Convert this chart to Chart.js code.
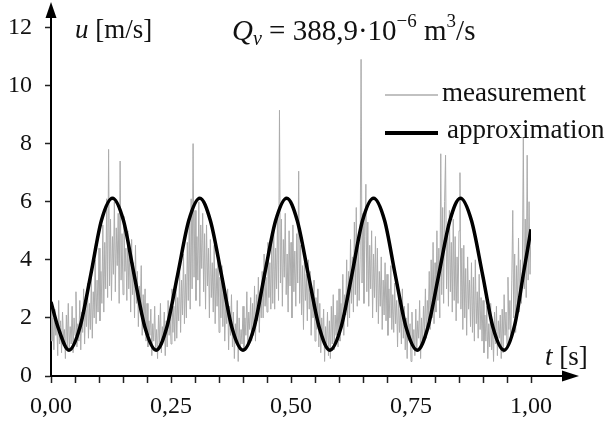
<!DOCTYPE html>
<html>
<head>
<meta charset="utf-8">
<script src="https://cdn.jsdelivr.net/npm/chart.js@4.4.1/dist/chart.umd.min.js"></script>
<style>
html, body { margin: 0; padding: 0; background: #fff; }
</style>
</head>
<body>
<canvas id="chartVelocidade" width="612" height="425"></canvas>
<script>
// measured velocity, one sample every 2 ms from t = 0 to t = 1,00 s (one row = 20 ms)
var sampleStep = 0.002;
var measuredU = [
    2.4, 1.2, 2.0, 0.9, 2.3, 1.4, 1.8, 0.7, 2.6, 1.1,
    1.9, 0.8, 2.2, 1.3, 1.6, 0.6, 2.1, 1.0, 2.5, 0.9,
    1.7, 1.1, 2.4, 0.8, 2.0, 1.4, 2.9, 1.0, 1.8, 1.2,
    2.6, 0.9, 2.2, 1.5, 3.0, 1.1, 2.4, 1.7, 3.2, 1.3,
    2.5, 1.6, 3.4, 1.3, 2.9, 2.0, 4.0, 1.8, 3.3, 2.2,
    4.4, 1.9, 3.6, 2.5, 5.2, 2.2, 4.6, 3.0, 6.1, 2.7,
    7.8, 3.1, 5.4, 2.6, 4.8, 3.5, 6.0, 2.9, 5.1, 3.8,
    5.6, 2.5, 7.4, 3.3, 4.9, 2.8, 5.5, 3.6, 4.4, 2.6,
    5.0, 3.0, 4.2, 2.2, 4.7, 2.8, 3.9, 2.0, 4.5, 2.5,
    3.6, 1.7, 3.1, 2.3, 3.8, 1.4, 2.8, 1.9, 3.0, 1.2,
    2.5, 1.0, 1.9, 1.4, 2.3, 0.7, 1.8, 1.2, 2.4, 0.9,
    1.6, 0.6, 2.1, 1.1, 2.5, 0.8, 1.7, 1.3, 2.2, 0.7,
    1.9, 1.0, 2.6, 1.4, 2.2, 1.1, 3.0, 1.5, 2.4, 1.2,
    3.1, 1.3, 2.7, 1.9, 3.6, 1.5, 3.3, 2.1, 4.2, 1.8,
    3.5, 2.0, 4.6, 2.6, 5.3, 2.3, 6.1, 3.0, 8.0, 3.4,
    5.7, 2.6, 4.8, 3.3, 6.0, 2.4, 5.2, 3.7, 5.6, 2.9,
    4.9, 2.3, 5.2, 3.1, 4.4, 2.0, 4.7, 2.7, 3.9, 2.2,
    4.5, 1.8, 3.7, 2.4, 4.1, 1.5, 3.4, 2.0, 3.8, 1.7,
    3.2, 1.2, 2.6, 1.8, 3.0, 0.9, 2.4, 1.4, 2.8, 1.0,
    2.2, 0.6, 1.8, 1.2, 2.6, 0.5, 2.0, 0.9, 1.6, 1.1,
    2.4, 0.9, 2.0, 1.4, 2.9, 1.1, 2.2, 1.6, 2.7, 1.2,
    2.5, 1.4, 3.1, 1.2, 2.8, 1.9, 3.4, 1.5, 2.9, 2.0,
    3.6, 2.0, 4.2, 2.4, 3.4, 2.2, 4.6, 2.7, 3.9, 2.3,
    4.8, 2.5, 5.2, 2.3, 4.4, 3.0, 5.6, 2.6, 9.15, 3.2,
    5.4, 2.4, 4.7, 3.4, 5.6, 2.8, 4.2, 2.2, 5.0, 3.1,
    4.6, 2.0, 5.2, 2.9, 4.3, 2.4, 4.9, 3.2, 7.05, 2.5,
    4.5, 2.1, 3.8, 1.6, 4.2, 2.6, 3.5, 1.9, 4.0, 2.3,
    3.6, 1.4, 2.9, 2.0, 3.3, 1.2, 2.7, 1.6, 3.0, 1.0,
    2.5, 0.8, 2.0, 1.3, 2.3, 0.5, 1.7, 1.0, 2.2, 0.7,
    1.9, 0.6, 2.4, 1.1, 2.8, 0.9, 2.1, 1.4, 2.6, 1.0,
    3.0, 1.2, 2.5, 1.8, 3.5, 1.4, 2.8, 2.1, 4.0, 1.7,
    3.6, 2.0, 4.7, 2.5, 4.1, 2.2, 5.3, 2.8, 5.8, 2.4,
    4.6, 2.6, 4.0, 10.9, 3.2, 5.6, 2.5, 4.8, 6.6, 2.9,
    5.3, 2.4, 4.5, 3.0, 5.0, 2.0, 4.2, 2.7, 4.8, 2.2,
    4.4, 1.8, 3.6, 2.4, 4.1, 1.6, 3.3, 2.1, 3.9, 1.9,
    3.5, 1.4, 3.0, 2.0, 3.8, 1.6, 2.8, 1.5, 3.2, 1.8,
    2.6, 1.0, 2.9, 1.5, 2.3, 1.1, 3.0, 1.3, 2.4, 0.9,
    2.0, 0.6, 2.5, 1.2, 1.8, 0.5, 2.2, 1.0, 1.6, 0.7,
    2.3, 0.9, 1.9, 1.3, 2.6, 0.6, 2.0, 1.1, 2.4, 1.4,
    3.0, 1.3, 2.6, 1.9, 3.6, 1.6, 4.0, 2.0, 4.6, 1.8,
    3.9, 2.2, 5.0, 2.6, 4.4, 2.0, 7.65, 2.8, 5.8, 2.5,
    6.0, 7.6, 3.0, 5.2, 2.4, 5.7, 2.9, 4.6, 2.2, 5.4,
    2.6, 4.8, 1.9, 4.1, 2.5, 5.0, 7.0, 2.3, 4.4, 1.6,
    4.5, 2.0, 3.7, 1.4, 4.1, 2.3, 3.3, 1.7, 3.9, 1.5,
    3.4, 1.2, 4.0, 1.8, 2.9, 1.3, 3.5, 1.6, 2.7, 1.2,
    2.6, 0.8, 2.1, 1.2, 2.4, 0.6, 1.8, 1.0, 2.5, 0.9,
    1.7, 0.5, 2.2, 1.1, 2.4, 0.7, 1.9, 1.3, 2.1, 0.6,
    2.3, 0.8, 2.8, 1.4, 2.2, 1.0, 3.4, 1.6, 2.6, 1.2,
    3.3, 5.7, 2.0, 4.2, 1.5, 3.8, 2.4, 4.75, 2.2, 4.0,
    2.5, 3.6, 8.2, 3.0, 5.4, 2.7, 7.6, 3.3, 6.0, 3.5,
    5.0
];

// approximation curve
var approxT = [0, 0.015, 0.0375, 0.060, 0.083, 0.105, 0.128, 0.151, 0.173, 0.196,
    0.219, 0.241, 0.264, 0.287, 0.310, 0.332, 0.355, 0.377,
    0.400, 0.423, 0.445, 0.468, 0.491, 0.513, 0.536, 0.559,
    0.581, 0.604, 0.627, 0.649, 0.672, 0.695, 0.717, 0.740,
    0.763, 0.785, 0.808, 0.831, 0.853, 0.876, 0.899, 0.921,
    0.944, 0.966, 0.985, 1.0];
var approxU = [2.55, 1.66, 0.89, 1.66, 3.5, 5.35, 6.12, 5.35, 3.5, 1.66,
    0.89, 1.66, 3.5, 5.35, 6.12, 5.35, 3.5, 1.66,
    0.89, 1.66, 3.5, 5.35, 6.12, 5.35, 3.5, 1.66,
    0.89, 1.66, 3.5, 5.35, 6.12, 5.35, 3.5, 1.66,
    0.89, 1.66, 3.5, 5.35, 6.12, 5.35, 3.5, 1.66,
    0.89, 1.75, 3.6, 5.05];

var xTickValues = [0, 0.25, 0.5, 0.75, 1.0];
var xTickLabels = ["0,00", "0,25", "0,50", "0,75", "1,00"];
var yTickLabels = ["0", "2", "4", "6", "8", "10", "12"];

var serif = "'Liberation Serif', 'Times New Roman', serif";
var textColor = '#111';

var puntosMedidos = measuredU.map(function (u, i) {
    return { x: Math.round(i * sampleStep * 1000) / 1000, y: u };
});
var puntosAprox = approxT.map(function (t, i) {
    return { x: t, y: approxU[i] };
});

function texto(ctx, parts, x, y) {
    parts.forEach(function (p) {
        ctx.font = p.font;
        ctx.fillText(p.text, x, y + (p.dy || 0));
        x += ctx.measureText(p.text).width;
    });
}

var extras = {
    id: 'extras',
    afterDraw: function (chart) {
        var ctx = chart.ctx, a = chart.chartArea;
        ctx.save();
        // axis extensions with arrows
        ctx.strokeStyle = '#000';
        ctx.fillStyle = '#000';
        ctx.lineWidth = 2;
        ctx.beginPath();
        ctx.moveTo(a.right - 1, a.bottom);
        ctx.lineTo(566, a.bottom);
        ctx.moveTo(a.left, a.top + 1);
        ctx.lineTo(a.left, 14);
        ctx.stroke();
        ctx.beginPath();
        ctx.moveTo(579, a.bottom);
        ctx.lineTo(562, a.bottom - 5.5);
        ctx.lineTo(562, a.bottom + 5.5);
        ctx.closePath();
        ctx.fill();
        ctx.beginPath();
        ctx.moveTo(a.left, 2);
        ctx.lineTo(a.left - 5.5, 18);
        ctx.lineTo(a.left + 5.5, 18);
        ctx.closePath();
        ctx.fill();

        // axis titles
        ctx.fillStyle = textColor;
        ctx.textBaseline = 'alphabetic';
        ctx.textAlign = 'left';
        texto(ctx, [
            { text: 'u', font: 'italic 27px ' + serif },
            { text: ' [m/s]', font: '27px ' + serif }
        ], 75, 38);
        texto(ctx, [
            { text: 't', font: 'italic 27px ' + serif },
            { text: ' [s]', font: '27px ' + serif }
        ], 545, 365);
        texto(ctx, [
            { text: 'Q', font: 'italic 29px ' + serif },
            { text: 'v', font: 'italic 20px ' + serif, dy: 5 },
            { text: ' = 388,9\u00b710', font: '29px ' + serif },
            { text: '\u22126', font: '19px ' + serif, dy: -13 },
            { text: ' m', font: '29px ' + serif },
            { text: '3', font: '19px ' + serif, dy: -13 },
            { text: '/s', font: '29px ' + serif }
        ], 232, 40);

        // legend
        var filas = [
            { ds: chart.data.datasets[0], y: 95, tx: 442, ty: 101 },
            { ds: chart.data.datasets[1], y: 133, tx: 447, ty: 138 }
        ];
        filas.forEach(function (f) {
            ctx.strokeStyle = f.ds.borderColor;
            ctx.lineWidth = f.ds.legendWidth;
            ctx.beginPath();
            ctx.moveTo(385, f.y);
            ctx.lineTo(438, f.y);
            ctx.stroke();
            ctx.font = '27px ' + serif;
            ctx.fillStyle = textColor;
            ctx.fillText(f.ds.label, f.tx, f.ty);
        });
        ctx.restore();
    }
};

var grafico = new Chart(document.getElementById('chartVelocidade').getContext('2d'), {
    type: 'line',
    data: {
        datasets: [
            {
                label: 'measurement',
                data: puntosMedidos,
                borderColor: '#acacac',
                borderWidth: 1,
                legendWidth: 1.5,
                pointRadius: 0,
                tension: 0,
                order: 2
            },
            {
                label: 'approximation',
                data: puntosAprox,
                borderColor: '#000',
                borderWidth: 3.5,
                legendWidth: 4,
                pointRadius: 0,
                cubicInterpolationMode: 'monotone',
                order: 1
            }
        ]
    },
    options: {
        responsive: false,
        animation: false,
        devicePixelRatio: 1,
        layout: { padding: { top: 25, right: 81, left: 0, bottom: 0 } },
        plugins: { legend: { display: false }, tooltip: { enabled: false } },
        scales: {
            x: {
                type: 'linear',
                min: 0,
                max: 1,
                afterFit: function (s) { s.height = 49; },
                grid: { drawOnChartArea: false, tickLength: 7, tickColor: '#222', tickWidth: 1.5 },
                border: { color: '#000', width: 2 },
                ticks: {
                    stepSize: 0.05,
                    autoSkip: false,
                    maxRotation: 0,
                    padding: 9,
                    color: textColor,
                    font: { family: serif, size: 24 },
                    callback: function (v) {
                        for (var i = 0; i < xTickValues.length; i++) {
                            if (Math.abs(v - xTickValues[i]) < 1e-6) return xTickLabels[i];
                        }
                        return '';
                    }
                }
            },
            y: {
                min: 0,
                max: 12,
                afterFit: function (s) { s.width = 51; },
                grid: { drawOnChartArea: false, tickLength: 6, tickColor: '#222', tickWidth: 1.5 },
                border: { color: '#000', width: 2 },
                ticks: {
                    stepSize: 2,
                    padding: 13,
                    color: textColor,
                    font: { family: serif, size: 24 },
                    callback: function (v) { return yTickLabels[Math.round(v / 2)]; }
                }
            }
        }
    },
    plugins: [extras]
});
</script>
</body>
</html>
